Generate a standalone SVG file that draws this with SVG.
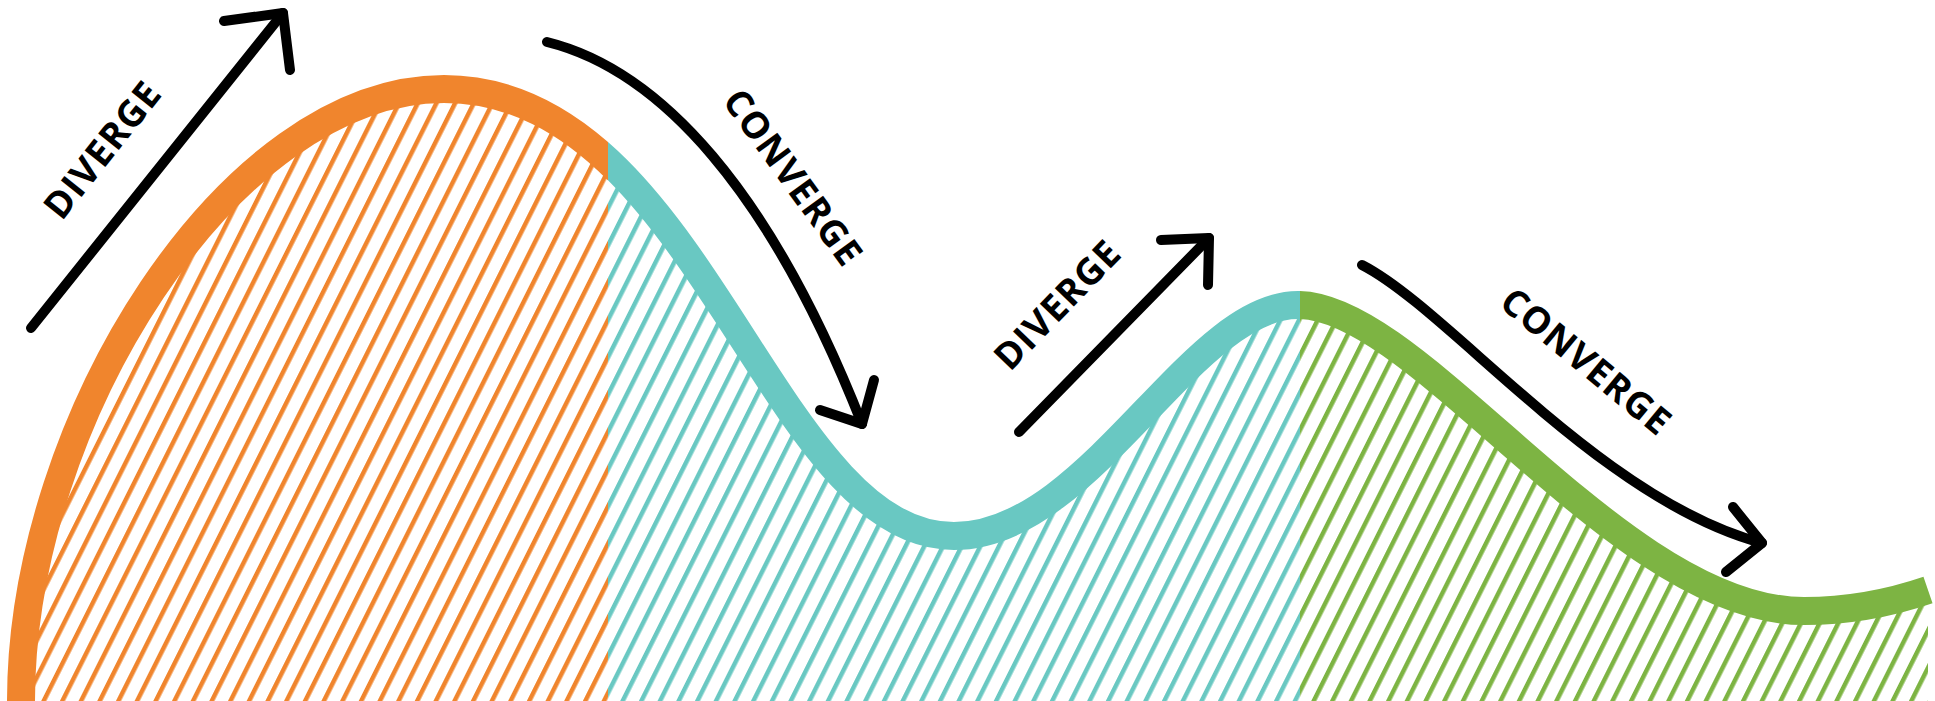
<svg xmlns="http://www.w3.org/2000/svg" xmlns:xlink="http://www.w3.org/1999/xlink" width="1935" height="701" viewBox="0 0 1935 701">
<style>
.lbl{font-family:"Open Sans","Liberation Sans",sans-serif;font-weight:700;font-size:37px;letter-spacing:1px;fill:#000;text-anchor:middle}
.arrow{fill:none;stroke:#000;stroke-width:10;stroke-linecap:round;stroke-linejoin:round}
.wave{fill:none;stroke-width:28;stroke-linecap:butt}
</style>
<defs>
<path id="curve" d="M21,701 C21,420 230,89 444,89 C700,89 770,536 954,536 C1090,536 1190,305 1298,305 C1420,305 1620,611 1804,611 C1850,611 1890,603 1928,590"/>
<path id="area" d="M21,701 C21,420 230,89 444,89 C700,89 770,536 954,536 C1090,536 1190,305 1298,305 C1420,305 1620,611 1804,611 C1850,611 1890,603 1928,590 L1928,701 Z"/>
<pattern id="hatchO" patternUnits="userSpaceOnUse" width="16.7" height="40" patternTransform="rotate(26.6)"><rect x="0" y="0" width="4.5" height="40" fill="#F0852D"/></pattern>
<pattern id="hatchT" patternUnits="userSpaceOnUse" width="16.7" height="40" patternTransform="rotate(26.6)"><rect x="0" y="0" width="4.5" height="40" fill="#69C8C2"/></pattern>
<pattern id="hatchG" patternUnits="userSpaceOnUse" width="16.7" height="40" patternTransform="rotate(26.6)"><rect x="0" y="0" width="4.5" height="40" fill="#7DB443"/></pattern>
<clipPath id="clipO"><rect x="0" y="0" width="608" height="701"/></clipPath>
<clipPath id="clipT"><rect x="608" y="0" width="692" height="701"/></clipPath>
<clipPath id="clipG"><rect x="1300" y="0" width="635" height="701"/></clipPath>
</defs>
<rect x="0" y="0" width="1935" height="701" fill="#fff"/>
<g id="phase-diverge-1">
<use xlink:href="#area" fill="url(#hatchO)" clip-path="url(#clipO)"/>
<use xlink:href="#curve" class="wave" stroke="#F0852D" clip-path="url(#clipO)"/>
</g>
<g id="phase-converge-1">
<use xlink:href="#area" fill="url(#hatchT)" clip-path="url(#clipT)"/>
<use xlink:href="#curve" class="wave" stroke="#69C8C2" clip-path="url(#clipT)"/>
</g>
<g id="phase-converge-2">
<use xlink:href="#area" fill="url(#hatchG)" clip-path="url(#clipG)"/>
<use xlink:href="#curve" class="wave" stroke="#7DB443" clip-path="url(#clipG)"/>
</g>
<g id="connectors">
<path class="arrow" d="M31,328 L283,13"/>
<path class="arrow" d="M224,21 L283,13 L290,70"/>
<path class="arrow" d="M547,42 C660,70 770,190 862,424"/>
<path class="arrow" d="M820,410 L862,424 L874,380"/>
<path class="arrow" d="M1019,432 L1209,238"/>
<path class="arrow" d="M1161,240 L1209,238 L1208,285"/>
<path class="arrow" d="M1362,265 C1450,310 1600,500 1762,543"/>
<path class="arrow" d="M1733,507 L1762,543 L1726,572"/>
</g>
<g id="label-diverge-1"><text class="lbl" transform="translate(102,150) rotate(-51.5)" x="0.5" y="13.2">DIVERGE</text></g>
<g id="label-converge-1"><text class="lbl" transform="translate(793,177) rotate(54)" x="0.5" y="13.2">CONVERGE</text></g>
<g id="label-diverge-2"><text class="lbl" transform="translate(1057,305) rotate(-46)" x="0.5" y="13.2">DIVERGE</text></g>
<g id="label-converge-2"><text class="lbl" transform="translate(1586,361) rotate(39.5)" x="0.5" y="13.2">CONVERGE</text></g>
</svg>
